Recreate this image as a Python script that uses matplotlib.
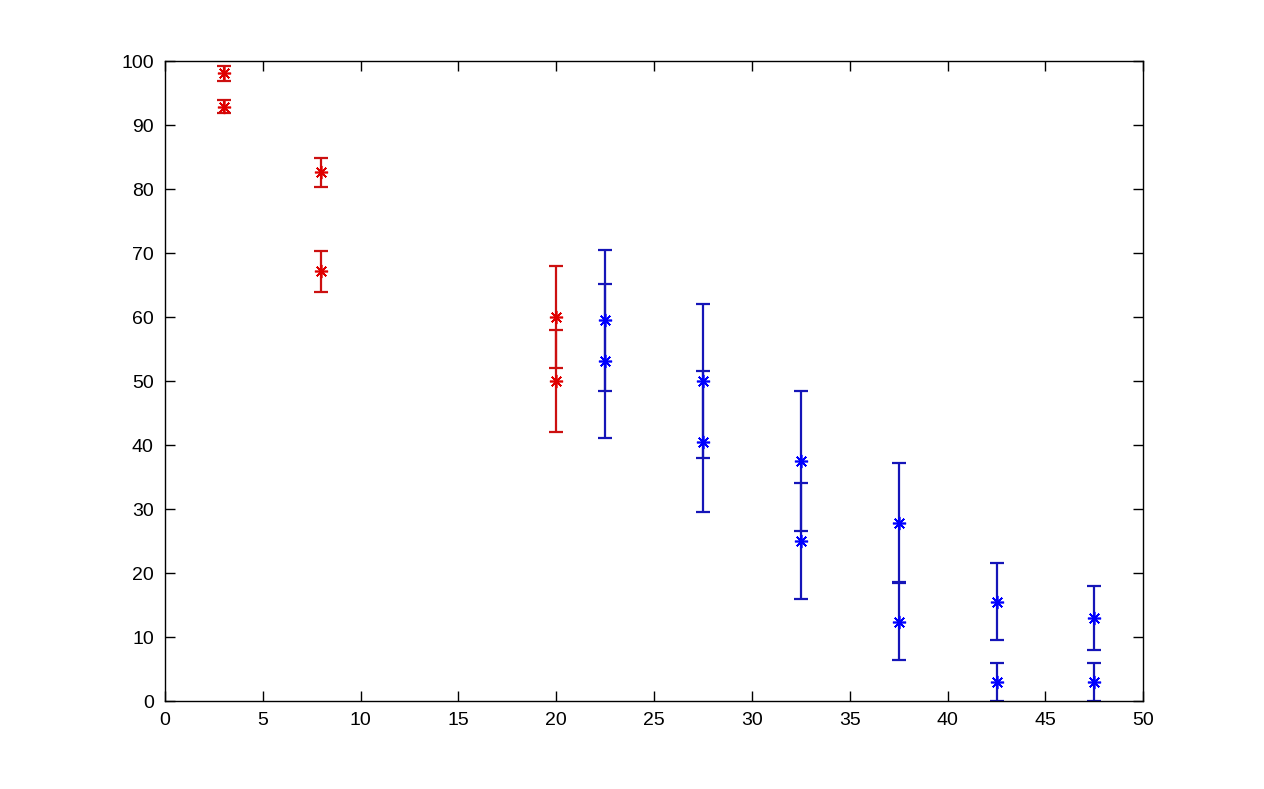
import numpy as np
import matplotlib.pyplot as plt

plt.rcParams['font.family'] = ['Liberation Sans', 'DejaVu Sans']

# red series
red_x = [3, 3, 8, 8, 20, 20]
red_y = [98.1, 92.9, 82.6, 67.2, 60.0, 50.0]
red_err = [1.2, 1.0, 2.3, 3.2, 8.0, 8.0]

# blue series
blue_x = [22.5, 22.5, 27.5, 27.5, 32.5, 32.5, 37.5, 37.5, 42.5, 42.5, 47.5, 47.5]
blue_y = [59.5, 53.1, 50.0, 40.5, 37.5, 25.0, 27.9, 12.4, 15.5, 3.0, 12.9, 3.0]
blue_err = [11.0, 12.0, 12.0, 11.0, 11.0, 9.0, 9.3, 6.0, 6.0, 3.0, 5.0, 3.0]

fig = plt.figure(figsize=(12.64, 7.89), dpi=100)
ax = fig.add_axes([0.1305, 0.1115, 0.774, 0.811])

# matlab-style asterisk marker
star = (8, 2, 0)

ax.errorbar(red_x, red_y, yerr=red_err, fmt='none', ecolor='#cc1010',
            elinewidth=1.6, capsize=5, capthick=1.6)
ax.plot(red_x, red_y, linestyle='none', marker=star, color='#e00000',
        markersize=9.5, markeredgewidth=1.2)
ax.errorbar(blue_x, blue_y, yerr=blue_err, fmt='none', ecolor='#1515b8',
            elinewidth=1.6, capsize=5, capthick=1.6)
ax.plot(blue_x, blue_y, linestyle='none', marker=star, color='#0000ff',
        markersize=9.5, markeredgewidth=1.2)

ax.set_xlim(0, 50)
ax.set_ylim(0, 100)
ax.set_xticks(np.arange(0, 51, 5))
ax.set_yticks(np.arange(0, 101, 10))
ax.tick_params(direction='in', top=True, right=True, length=7.5, width=1, labelsize=14, pad=8)
for s in ax.spines.values():
    s.set_linewidth(1)

fig.savefig('out.png', dpi=100)
